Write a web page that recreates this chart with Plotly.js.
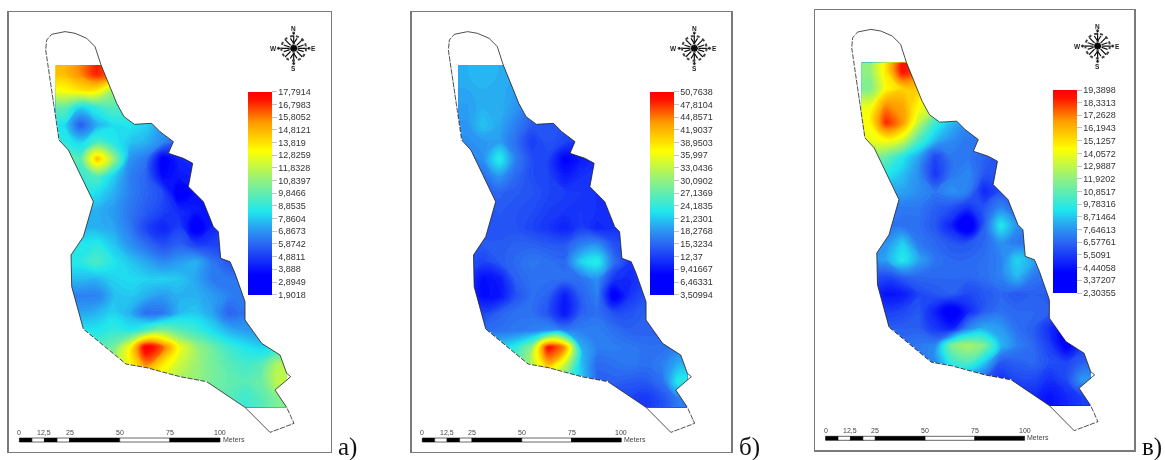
<!DOCTYPE html>
<html><head><meta charset="utf-8">
<script src="https://cdn.plot.ly/plotly-3.0.1.min.js"></script>
<style>html,body{margin:0;padding:0;background:#fff}#plot{width:1165px;height:460px;filter:blur(0.35px)}</style>
</head><body><div id="plot"></div>
<script>
// Map boundary (map units)
const outlineX=[177,137,140,155,195,225,260,285,303,330,350,372,403,455,480,520,505,550,578,565,610,640,655,662,690,705,735,735,785,840,860,872,825,860,882,810,735,620,540,440,378,250,215,213,250,280,205,177];
const outlineY=[420,150,120,103,95,100,115,140,195,260,310,350,373,370,395,425,460,475,490,560,605,680,695,775,785,820,905,960,1030,1065,1120,1130,1170,1222,1270,1297,1222,1145,1130,1103,1092,987,860,765,710,605,450,420];
const dashedLeftX=[177,137,140,155];
const dashedLeftY=[420,150,120,103];
const dashedBottomX=[860,882,810];
const dashedBottomY=[1222,1270,1297];
const dashedSouthX=[620,540,440,378,250];
const dashedSouthY=[1145,1130,1103,1092,987];

// Grid positions of the surfaces (map units), the first and last being the raster edges
const gridX=[167,192,241,291,340,390,439,489,538,588,637,687,736,786,835,860];
const gridY=[195,221,272,323,375,426,477,529,580,631,683,734,785,837,888,939,991,1042,1093,1145,1196,1222];

// Surfaces
const zA=[
[14.5,14.5,15.5,17,15.5,13,12,11,10,10,10,10,10,10,10,10],
[14.5,14.5,15.5,17,15.5,13,12,11,10,10,10,10,10,10,10,10],
[13,13,13.6,13.4,11,10,10,9,9,9,9,9,9,9,9,9],
[9.8,9.8,8,8.8,9.5,9,8.5,8,8,8,8,8,8,8,8,8],
[8.2,8.2,5.6,7.4,8.2,8.4,8,7,6.5,6,6,6,6,6,6,6],
[8.6,8.6,8,9.3,8.5,7.8,7.4,6.6,5.5,5,5,5,5,5,5,5],
[10,10,9.5,14.5,11,6.8,6.2,3.2,4.3,4.5,4.5,4.5,4.5,4.5,4.5,4.5],
[9,9,9,9.5,8,6.4,5.8,3.6,4,4.2,4.2,4.2,4.2,4.2,4.2,4.2],
[8.5,8.5,8.5,8.2,7.4,6.4,5.8,5.2,3,3.9,4,4,4,4,4,4],
[7.5,7.5,7.5,7.4,7,6.2,5.6,5,4.4,4,3.9,4,4,4,4,4],
[7.5,7.5,7.5,7.4,7.2,6.3,5,4.3,5,2.9,4.3,5,5,5,5,5],
[8.4,8.4,8.4,8.6,7.8,6.8,6,5.3,5.7,5,5,5,5,5,5,5],
[8.6,8.6,8.6,9.3,8.4,7.8,7.2,6.6,7,7.4,6.2,5.5,5.5,5.5,5.5,5.5],
[7.6,7.6,7.6,7.5,8,8.2,8,8,7.8,7.2,6.3,6.2,6.2,6.2,6.2,6.2],
[6.4,6.4,6.4,6.4,7.6,7.8,7.4,7,7.4,7.4,7,6.4,6.2,6.2,6.2,6.2],
[7.2,7.2,7.2,7.5,8,7.4,6,6.2,7.6,7.8,7.2,5.8,6.2,6.4,6.4,6.4],
[8.4,8.4,8.4,8.4,8.8,8.5,9.5,10.5,9.6,9,8.2,7.4,7,7,7,7],
[9.5,9.5,9.5,9.5,10.2,13,18,16,12.8,11,10,9,8.4,8,8.6,8.6],
[11,11,11,11,11,13,15.5,13.5,12,11,10.2,9.6,9.2,9.6,11.5,11.5],
[11,11,11,11,11,12,13,12,11.2,10.8,10.2,9.8,9.6,10,11.8,11.8],
[10,10,10,10,10,10,10,10,10,10,10,9.6,9,9.6,10.5,10.5],
[10,10,10,10,10,10,10,10,10,10,10,9.6,9,9.6,10.5,10.5]];
const zB=[
[20,20,20.5,20,19.5,19,18,18,18,18,18,18,18,18,18,18],
[20,20,20.5,20,19.5,19,18,18,18,18,18,18,18,18,18,18],
[19.5,19.5,20,20,19,18,17,16,16,16,16,16,16,16,16,16],
[19,19,20,20,18.5,16,15,15,15,15,15,15,15,15,15,15],
[18.5,18.5,21,19.5,17,14.5,14,14,14,14,14,14,14,14,14,14],
[18,18,18.5,19,16,12.5,14,13,12,12,12,12,12,12,12,12],
[17,17,18,24,17,13.5,13,8,10,11,11,11,11,11,11,11],
[16,16,16,18.5,15.5,13.5,13,10,11.5,12,12,12,12,12,12,12],
[15,15,15,15,14.5,14,13,12.5,12,11.5,11,11,11,11,11,11],
[14,14,14,14.5,14,13.5,12.5,12,12,11.5,11,11,11,11,11,11],
[14,14,14,14,14,13,12,10.5,12.5,10.8,11.5,12,12,12,12,12],
[14,14,14.5,14.5,15,15,14.5,14.5,17,18,14,13,13,13,13,13],
[14,14,13,14.5,15.5,16.5,16,15.5,22,24,16,12,13,13,13,13],
[13,13,9,10,15,16,16,16,16,18,12,11,13,14,14,14],
[12,12,9,9.5,14,16,15,10,15,17,7,12,14,14,14,14],
[14,14,13,15,16,16,14,9.5,15,16,14,14,15,15,15,15],
[15,15,16,16,16.5,17,18,17,17,17,16,15,15,15,15,15],
[20,20,22,22,24,30,50,44,20,17,17,16.5,16,16,17,17],
[24,24,25,25,25,32,42,34,21,15.5,16,16.5,16,17,20,20],
[25,25,25,25,25,26,28,25,21,15,15,14.5,14.5,16,24,24],
[20,20,20,20,20,20,20,18,16,14,13,13,12,14,17,17],
[20,20,20,20,20,20,20,18,16,14,13,13,12,14,17,17]];
const zC=[
[12,12,15,19,17.5,15,13,12,11,11,11,11,11,11,11,11],
[12,12,15,19,17.5,15,13,12,11,11,11,11,11,11,11,11],
[11.5,11.5,14.5,15.5,15.5,13,11,10,10,10,10,10,10,10,10,10],
[14,14,17,16.5,14.5,13,10,9,9,9,9,9,9,9,9,9],
[14.5,14.5,18.5,16.8,13,10,8.5,7.5,7.5,7.5,7.5,7.5,7.5,7.5,7.5,7.5],
[14,14,14.5,13.5,10.5,8.5,7.5,7,7,7,7,7,7,7,7,7],
[12,12,11,9.5,8,5.8,7,7,6.5,6,6,6,6,6,6,6],
[10,10,9.5,8.6,7.5,5.4,7,7.4,6.2,6,6,6,6,6,6,6],
[8,8,8,8,7.5,7,7.6,7.2,5,6,6,6,6,6,6,6],
[7,7,7,7,7,6.4,6,5.2,6.2,7.4,6.5,6,6,6,6,6],
[7,7,7,6.8,6.8,6.2,4.8,2.8,6.4,9.5,7.6,7,7,7,7,7],
[7.4,7.4,7.6,8.8,7,6.6,6.2,6.2,6.6,7.6,7,7,7,7,7,7],
[7.8,7.8,8,9.6,8,6.9,6.6,6.6,6.8,7.2,9,8,7,7,7,7],
[6,6,5.8,6.4,6.6,6.6,6.6,6.6,6.8,7.2,8.4,7,6.6,6.6,6.6,6.6],
[5.6,5.6,4.4,4.6,5.8,6.2,6.4,5.8,6.2,6.6,6.2,6.4,6.4,6.4,6.4,6.4],
[6,6,5.6,5.8,6.2,4.8,3.4,5,6.4,6.8,6.6,6.6,6.4,6.2,6,6],
[6.4,6.4,6.4,6.4,6.4,5.4,4.8,7.4,8.2,7.8,6.8,6.4,5.2,3.8,5.4,5.4],
[6.8,6.8,6.8,6.8,7,7.4,11.5,12.5,11.5,8.4,7.2,6.6,5.6,3.8,5.4,5.4],
[7,7,7,7,7,7.4,9.8,10.5,8.8,6.2,6.4,6.6,6,5.8,6.4,6.4],
[7,7,7,7,7,7,7.5,7,6.2,5.2,5.8,5.8,5.2,5.8,7.8,7.8],
[6,6,6,6,6,6,6,6,5.5,5.2,5,5,4.4,5,5.6,5.6],
[6,6,6,6,6,6,6,6,5.5,5.2,5,5,4.4,5,5.6,5.6]];

// Legend labels
const labelsA=["17,7914","16,7983","15,8052","14,8121","13,819","12,8259","11,8328","10,8397","9,8466","8,8535","7,8604","6,8673","5,8742","4,8811","3,888","2,8949","1,9018"];
const valuesA=[17.7914,16.7983,15.8052,14.8121,13.819,12.8259,11.8328,10.8397,9.8466,8.8535,7.8604,6.8673,5.8742,4.8811,3.888,2.8949,1.9018];
const labelsB=["50,7638","47,8104","44,8571","41,9037","38,9503","35,997","33,0436","30,0902","27,1369","24,1835","21,2301","18,2768","15,3234","12,37","9,41667","6,46331","3,50994"];
const valuesB=[50.7638,47.8104,44.8571,41.9037,38.9503,35.997,33.0436,30.0902,27.1369,24.1835,21.2301,18.2768,15.3234,12.37,9.41667,6.46331,3.50994];
const labelsC=["19,3898","18,3313","17,2628","16,1943","15,1257","14,0572","12,9887","11,9202","10,8517","9,78316","8,71464","7,64613","6,57761","5,5091","4,44058","3,37207","2,30355"];
const valuesC=[19.3898,18.3313,17.2628,16.1943,15.1257,14.0572,12.9887,11.9202,10.8517,9.78316,8.71464,7.64613,6.57761,5.5091,4.44058,3.37207,2.30355];

// Scale bar
const scaleMeters=[0,6.25,12.5,18.75,25,50,75,100];
const scaleLabels=["0","12,5","25","50","75","100"];
const scaleLabelMeters=[0,12.5,25,50,75,100];
const panelLetters=["а)","б)","в)"];

const W=1165,H=460;
const jet=[[0,'#0000ff'],[0.1,'#0000ff'],[0.25,'#2b66f2'],[0.33,'#2aa0f2'],[0.41,'#1fe6ee'],[0.55,'#86f08c'],[0.71,'#ffff00'],[0.85,'#ff9a00'],[0.96,'#ff1400'],[1,'#ff0000']];
const xr=[26,992], yr=[1355,37];
const panels=[
 {frame:[8.7,330.7,12.3,451.7],bar:[248,91.7,202.6],z:zA,lab:labelsA,val:valuesA,letter:[336,447]},
 {frame:[411.7,731,12.3,451.7],bar:[650.3,91.7,202.6],z:zB,lab:labelsB,val:valuesB,letter:[737,447]},
 {frame:[815,1134.3,10,450],bar:[1053.3,90,203],z:zC,lab:labelsC,val:valuesC,letter:[1140,447]}
];
const traces=[],shapes=[],annotations=[];
const layout={width:W,height:H,margin:{l:0,r:0,t:0,b:0,autoexpand:false},paper_bgcolor:'#fff',plot_bgcolor:'#fff',showlegend:false,hovermode:false};
const cx=881,cy=145,ringR=37;
const sbX=m=>58+m*6.02, sbY=[1314,1326];
panels.forEach((p,i)=>{
 const s=i?String(i+1):'';
 const xa='x'+s, ya='y'+s;
 const axBase={showline:true,mirror:true,linecolor:'#7a7a7a',linewidth:1.5,showgrid:false,zeroline:false,ticks:'',showticklabels:false,fixedrange:true};
 layout['xaxis'+s]=Object.assign({},axBase,{domain:[p.frame[0]/W,p.frame[1]/W],range:xr,anchor:ya});
 layout['yaxis'+s]=Object.assign({},axBase,{domain:[1-p.frame[3]/H,1-p.frame[2]/H],range:yr,anchor:xa});
 const zv=p.val, zmin=zv[zv.length-1], zmax=zv[0];
 // continuous heatmap of the inner grid: carries the colorbar; its cells end at the raster edges
 traces.push({type:'heatmap',xaxis:xa,yaxis:ya,z:p.z.slice(1,-1).map(r=>r.slice(1,-1)),x:gridX.slice(1,-1),y:gridY.slice(1,-1),zsmooth:'best',colorscale:jet,zmin:zmin,zmax:zmax,hoverinfo:'skip',
  colorbar:{x:p.bar[0]/W,xanchor:'left',xpad:0,ypad:0,y:1-p.bar[1]/H,yanchor:'top',lenmode:'pixels',len:p.bar[2],thicknessmode:'pixels',thickness:24,outlinewidth:0,borderwidth:0,
   tickmode:'array',tickvals:zv,ticktext:p.lab,ticks:'outside',ticklen:5,tickwidth:0.6,tickcolor:'#999',tickfont:{family:'Liberation Sans',size:9,color:'#333'}}});
 traces.push({type:'contour',xaxis:xa,yaxis:ya,z:p.z,x:gridX,y:gridY,colorscale:jet,zmin:zmin,zmax:zmax,showscale:false,hoverinfo:'skip',autocontour:false,
  contours:{coloring:'fill',showlines:false,start:zmin,end:zmax,size:(zmax-zmin)/100},line:{width:0,smoothing:1.3}});
 // white mask around the boundary (outer box + boundary as a hole)
 const boxX=[150,150,880,880,150], boxY=[185,1240,1240,185,185];
 traces.push({type:'scatter',mode:'lines',xaxis:xa,yaxis:ya,x:boxX.concat(outlineX,[150]),y:boxY.concat(outlineY,[185]),fill:'toself',fillcolor:'#fff',line:{width:0},hoverinfo:'skip'});
 traces.push({type:'scatter',mode:'lines',xaxis:xa,yaxis:ya,x:outlineX,y:outlineY,line:{color:'#222',width:0.8},hoverinfo:'skip'});
 [[dashedLeftX,dashedLeftY],[dashedBottomX,dashedBottomY],[dashedSouthX,dashedSouthY]].forEach(d=>{
  traces.push({type:'scatter',mode:'lines',xaxis:xa,yaxis:ya,x:d[0],y:d[1],line:{color:'#fff',width:1.2,dash:'1.5px,5px'},hoverinfo:'skip'});
 });
 // compass
 const roseDx=[0,0,null,-46,46,null,-26,26,null,-26,26,null,-10,10,-10,null,10,-10,10,null,-30,0,-30,null,30,0,30];
 const roseDy=[-46,46,null,0,0,null,-26,26,null,26,-26,null,-30,0,30,null,-30,0,30,null,-10,0,10,null,-10,0,10];
 traces.push({type:'scatter',mode:'lines',xaxis:xa,yaxis:ya,x:roseDx.map(d=>d===null?null:cx+d),y:roseDy.map(d=>d===null?null:cy+d),line:{color:'#111',width:1.2},hoverinfo:'skip'});
 traces.push({type:'scatter',mode:'markers',xaxis:xa,yaxis:ya,x:[cx,cx,cx,cx-46,cx+46],y:[cy,cy-46,cy+46,cy,cy],marker:{color:'#000',size:[8,4,4,4,4]},hoverinfo:'skip'});
 shapes.push({type:'circle',xref:xa,yref:ya,x0:cx-ringR,x1:cx+ringR,y0:cy-ringR,y1:cy+ringR,line:{color:'#444',width:2,dash:'dot'}});
 [['N',cx,cy-60],['S',cx,cy+60],['W',cx-62,cy],['E',cx+60,cy]].forEach(t=>{
  annotations.push({xref:xa,yref:ya,x:t[1],y:t[2],text:t[0],showarrow:false,font:{family:'Liberation Sans',size:6.5,color:'#222',weight:700},xanchor:'center',yanchor:'middle'});
 });
 // scale bar
 for(let k=0;k<scaleMeters.length-1;k++){
  shapes.push({type:'rect',xref:xa,yref:ya,x0:sbX(scaleMeters[k]),x1:sbX(scaleMeters[k+1]),y0:sbY[0],y1:sbY[1],fillcolor:k%2?'#fff':'#000',line:{color:'#000',width:0.6}});
 }
 scaleLabels.forEach((t,k)=>{
  annotations.push({xref:xa,yref:ya,x:sbX(scaleLabelMeters[k]),y:1298,text:t,showarrow:false,font:{family:'Liberation Sans',size:7,color:'#444'},xanchor:'center',yanchor:'middle'});
 });
 annotations.push({xref:xa,yref:ya,x:sbX(100)+2,y:1318,text:'Meters',showarrow:false,font:{family:'Liberation Sans',size:7,color:'#444'},xanchor:'left',yanchor:'middle'});
 annotations.push({xref:'paper',yref:'paper',x:p.letter[0]/W,y:1-p.letter[1]/H,text:panelLetters[i],showarrow:false,font:{family:'Liberation Serif',size:25,color:'#111'},xanchor:'left',yanchor:'middle'});
});
layout.shapes=shapes;layout.annotations=annotations;
Plotly.newPlot('plot',traces,layout,{displayModeBar:false,staticPlot:true});
</script></body></html>
